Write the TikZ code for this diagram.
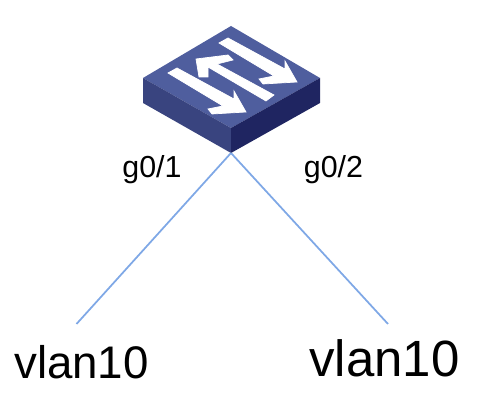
\documentclass[tikz,border=0pt]{standalone}
\usepackage{fontspec}
\setmainfont{Liberation Sans}
\definecolor{swtop}{HTML}{4F5E9E}
\definecolor{swleft}{HTML}{39447F}
\definecolor{swright}{HTML}{1F2561}
\definecolor{linkblue}{HTML}{7FA8E6}
\tikzstyle{swface}=[draw=none]
\tikzstyle{swarrow}=[fill=white,draw=white,line width=0.4pt]
\tikzstyle{link}=[draw=linkblue,line width=1pt]
\tikzstyle{portlabel}=[anchor=base,inner sep=0pt,font=\fontsize{17.3}{18}\selectfont]
\tikzstyle{vlanleft}=[anchor=base,inner sep=0pt,font=\fontsize{26}{26}\selectfont]
\tikzstyle{vlanright}=[anchor=base,inner sep=0pt,font=\fontsize{29}{29}\selectfont]

\begin{document}
\begin{tikzpicture}[x=0.02cm,y=-0.02cm]
    \useasboundingbox (0,0) rectangle (491,404);
    % switch body
    \fill[swtop,swface] (231,26) -- (320,78) -- (231,128) -- (143,78) -- cycle;
    \fill[swleft,swface] (143,78) -- (231,128) -- (231,153) -- (143,103) -- cycle;
    \fill[swright,swface] (320,78) -- (231,128) -- (231,153) -- (320,103) -- cycle;
    % the two arrows going down
    \foreach \dx/\dy in {0/0,51/-30} {
      \filldraw[swarrow,shift={(\dx,\dy)}] (168,73) -- (177,68) -- (234,99) -- (234,91) -- (246,112)
        -- (212,114) -- (208,109) -- (223,106) -- cycle;
    }
    % the arrow going up
    \filldraw[swarrow] (196,59) -- (228,55) -- (233,60) -- (217,64) -- (274,95) -- (266,101)
      -- (208,67) -- (208,77) -- (199,77) -- cycle;
    \coordinate (swbottom) at (231,153);
    \coordinate (leftend) at (76.5,324);
    \coordinate (rightend) at (388,324);
    \draw[link] (swbottom) -- (leftend);
    \draw[link] (swbottom) -- (rightend);
    \node[portlabel] (portone) at (152,178) {g0/1};
    \node[portlabel] (porttwo) at (333.5,178) {g0/2};
    \node[vlanleft] (vlanone) at (81.5,379) {vlan10};
    \node[vlanright] (vlantwo) at (384.5,377) {vlan10};
  \end{tikzpicture}
\end{document}
